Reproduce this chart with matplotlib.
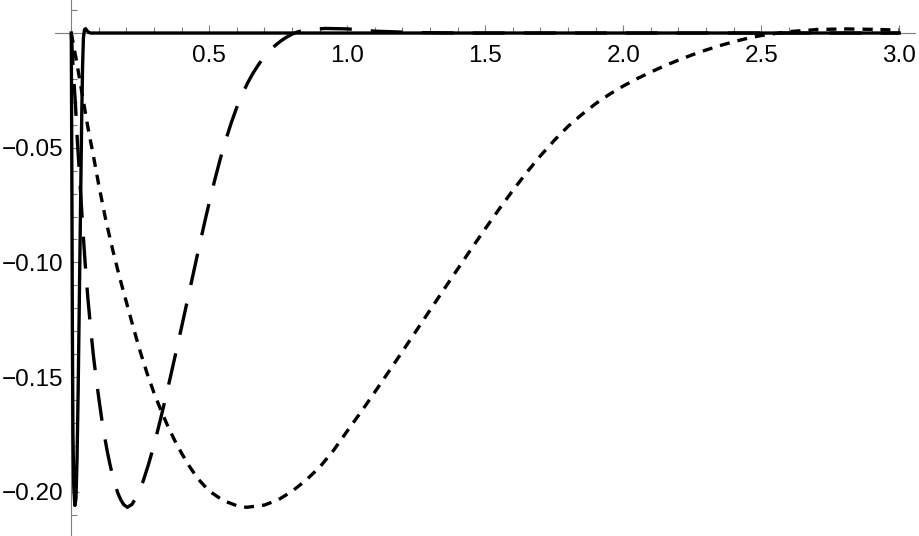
import numpy as np
import matplotlib
matplotlib.use('Agg')
import matplotlib.pyplot as plt
from matplotlib.ticker import MultipleLocator, FixedLocator

# values
solid_x = [0, 0.002, 0.004, 0.006, 0.009, 0.013, 0.017, 0.021, 0.025, 0.029, 0.032,
           0.035, 0.038, 0.041, 0.044, 0.048, 0.052, 0.057, 0.063, 0.07, 3.0]
solid_y = [0, -0.06, -0.13, -0.175, -0.198, -0.206, -0.203, -0.185, -0.155, -0.118, -0.09,
           -0.062, -0.035, -0.014, -0.002, 0.0015, 0.0019, 0.001, 0.0003, 0.0, 0.0]

dashed_x = [0, 0.007, 0.015, 0.022, 0.032, 0.040, 0.05, 0.06, 0.07, 0.08, 0.09, 0.10,
            0.11, 0.12, 0.13, 0.14, 0.15, 0.16, 0.17, 0.18, 0.19, 0.203, 0.22, 0.24,
            0.26, 0.28, 0.30, 0.32, 0.34, 0.36, 0.38, 0.40, 0.42, 0.44, 0.46, 0.48,
            0.50, 0.52, 0.54, 0.56, 0.58, 0.60, 0.62, 0.64, 0.66, 0.68, 0.70, 0.72,
            0.74, 0.76, 0.78, 0.80, 0.82, 0.85, 0.92, 1.0, 1.1, 1.25, 1.4, 3.0]
dashed_y = [0, -0.016, -0.031, -0.047, -0.066, -0.082, -0.100, -0.1155, -0.1285, -0.1405,
            -0.1505, -0.1595, -0.1680, -0.1755, -0.1822, -0.1880, -0.1932, -0.1975, -0.2010,
            -0.2037, -0.2056, -0.2068, -0.2055, -0.2015, -0.1955, -0.1880, -0.1795, -0.1700,
            -0.1600, -0.1495, -0.1388, -0.1280, -0.1170, -0.1060, -0.0950, -0.0842, -0.0738,
            -0.0640, -0.0548, -0.0465, -0.0390, -0.0323, -0.0265, -0.0215, -0.0172, -0.0135,
            -0.0103, -0.0076, -0.0053, -0.0034, -0.0018, -0.0005, 0.0005, 0.0013, 0.0020,
            0.0018, 0.0008, 0.0002, 0.0, 0.0]

dotted_x = [0, 0.02, 0.04, 0.06, 0.08, 0.10, 0.125, 0.15, 0.175, 0.20, 0.225, 0.25, 0.275,
            0.30, 0.325, 0.35, 0.375, 0.40, 0.43, 0.46, 0.50, 0.55, 0.60, 0.635, 0.70,
            0.75, 0.80, 0.85, 0.90, 0.95, 1.0, 1.05, 1.1, 1.15, 1.2, 1.25, 1.3, 1.35,
            1.4, 1.45, 1.5, 1.55, 1.6, 1.65, 1.7, 1.75, 1.8, 1.85, 1.9, 1.95, 2.0, 2.05,
            2.1, 2.15, 2.2, 2.25, 2.3, 2.35, 2.4, 2.45, 2.5, 2.55, 2.6, 2.7, 2.8, 2.9, 3.0]
dotted_y = [0, -0.013, -0.027, -0.041, -0.0535, -0.0665, -0.0815, -0.0945, -0.1065,
            -0.1175, -0.1285, -0.1390, -0.1485, -0.1570, -0.1645, -0.1715, -0.1777, -0.1833,
            -0.1893, -0.1945, -0.1997, -0.2038, -0.2061, -0.2068, -0.2058, -0.2035, -0.1998,
            -0.1950, -0.1893, -0.1820, -0.1735, -0.1652, -0.1565, -0.1477, -0.1388, -0.1298,
            -0.1208, -0.1118, -0.1029, -0.0940, -0.0853, -0.0768, -0.0686, -0.0608, -0.0535,
            -0.0468, -0.0407, -0.0355, -0.0308, -0.0267, -0.0231, -0.0199, -0.0170, -0.0143,
            -0.0118, -0.0095, -0.0074, -0.0055, -0.0038, -0.0023, -0.0011, -0.0002, 0.0006,
            0.0015, 0.0018, 0.0016, 0.0013]

x_ticks = [0.5, 1.0, 1.5, 2.0, 2.5, 3.0]
y_ticks = [-0.20, -0.15, -0.10, -0.05]

plt.rcParams['font.family'] = ['Liberation Sans', 'DejaVu Sans']

fig = plt.figure(figsize=(9.2, 5.36), dpi=100)
ax = fig.add_axes([55 / 920, 0, 860 / 920, 1])

lw = 2.4
ax.plot(dotted_x, dotted_y, color='black', lw=lw, dashes=(3.0, 2.4), zorder=3)
ax.plot(dashed_x, dashed_y, color='black', lw=lw, dashes=(9.6, 5.7), zorder=3)
ax.plot(solid_x, solid_y, color='black', lw=lw, solid_joinstyle='round', zorder=4)

ax.set_xlim(-0.059, 3.057)
ax.set_ylim(-0.2193, 0.0144)

# axes through the origin, mathematica style
axis_gray = '#7f7f7f'
for side in ['top', 'right']:
    ax.spines[side].set_visible(False)
ax.spines['bottom'].set_position(('data', 0))
ax.spines['left'].set_position(('data', 0))
for side in ['bottom', 'left']:
    ax.spines[side].set_color(axis_gray)
    ax.spines[side].set_linewidth(0.8)

ax.xaxis.set_major_locator(FixedLocator(x_ticks))
ax.xaxis.set_minor_locator(MultipleLocator(0.1))
ax.yaxis.set_major_locator(FixedLocator(y_ticks))
ax.yaxis.set_minor_locator(MultipleLocator(0.01))
ax.set_xticklabels(['%.1f' % v for v in x_ticks])
ax.set_yticklabels([('%.2f' % v).replace('-', '\u2212') for v in y_ticks])

ax.tick_params(which='both', direction='in', color=axis_gray, width=0.8, labelsize=17.5,
               labelcolor='black')
ax.tick_params(axis='x', which='major', length=6, pad=8.5)
ax.tick_params(axis='x', which='minor', length=4)
ax.tick_params(axis='y', which='major', length=6, pad=6)
ax.tick_params(axis='y', which='minor', length=4)

fig.savefig('out.png', dpi=100)
